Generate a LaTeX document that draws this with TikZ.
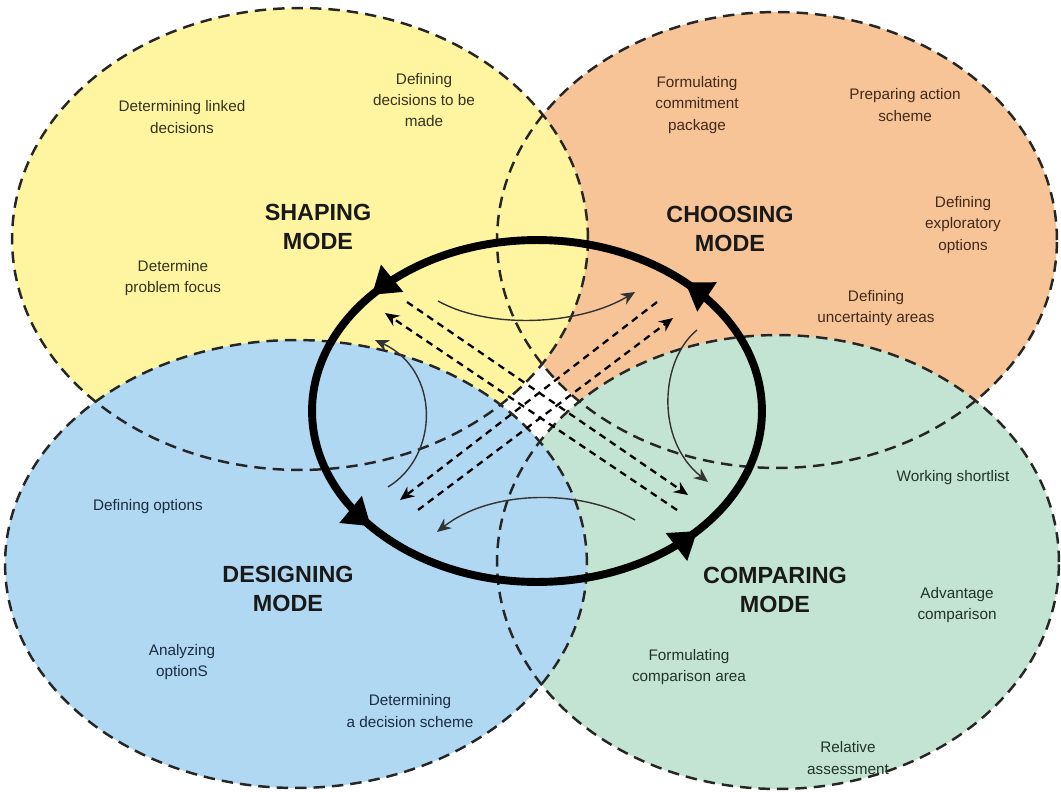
\documentclass[tikz,border=0pt]{standalone}
\usepackage{fontspec}
\setmainfont{Liberation Sans}
\usetikzlibrary{arrows.meta,decorations.markings}

\definecolor{shapingyellow}{HTML}{FFF5A0}
\definecolor{choosingorange}{HTML}{F6C497}
\definecolor{designingblue}{HTML}{B0D8F2}
\definecolor{comparinggreen}{HTML}{C4E4D3}
\definecolor{shapingtext}{HTML}{34321C}
\definecolor{choosingtext}{HTML}{42291A}
\definecolor{designingtext}{HTML}{1A2C40}
\definecolor{comparingtext}{HTML}{203428}

\tikzset{
  modeedge/.style={draw=black!85, line width=1.4pt, dash pattern=on 6.5pt off 4pt},
  item/.style={align=center, inner sep=0pt, font=\fontsize{8.7}{12}\selectfont},
  modename/.style={align=center, inner sep=0pt, text=black!90,
    font=\fontsize{13.3}{16}\selectfont\bfseries},
  modecycle/.style={line width=4.5pt, postaction={decorate},
    decoration={markings,
      mark=at position 0.125 with {\arrow{Triangle[length=15pt,width=19pt]}},
      mark=at position 0.392 with {\arrow{Triangle[length=15pt,width=19pt]}},
      mark=at position 0.607 with {\arrow{Triangle[length=15pt,width=19pt]}},
      mark=at position 0.887 with {\arrow{Triangle[length=15pt,width=19pt]}}}},
  feedback/.style={draw=black!80, line width=0.8pt, -{Stealth[length=8pt, width=7pt]}},
  crossing/.style={line width=1.3pt, dash pattern=on 4pt off 3pt,
    -{Stealth[length=8pt, width=7pt]}}
}

\begin{document}
\begin{tikzpicture}[x=0.02cm, y=-0.02cm]
\useasboundingbox (0,0) rectangle (1061,791);

% mode areas, lowest first
\fill[choosingorange] (777,240) ellipse [x radius=5.6cm,  y radius=4.56cm];
\fill[shapingyellow]  (300,239) ellipse [x radius=5.76cm, y radius=4.62cm];
\fill[comparinggreen] (778,562) ellipse [x radius=5.62cm, y radius=4.54cm];
\fill[designingblue]  (296,564) ellipse [x radius=5.82cm, y radius=4.48cm];

\draw[modeedge] (777,240) ellipse [x radius=5.6cm,  y radius=4.56cm];
\draw[modeedge] (300,239) ellipse [x radius=5.76cm, y radius=4.62cm];
\draw[modeedge] (778,562) ellipse [x radius=5.62cm, y radius=4.54cm];
\draw[modeedge] (296,564) ellipse [x radius=5.82cm, y radius=4.48cm];

% shaping
\node[modename] (shaping) at (318,227) {SHAPING\\MODE};
\node[item, text=shapingtext] (linked)  at (182,117) {Determining linked\\decisions};
\node[item, text=shapingtext] (tobe)    at (424,100) {Defining\\decisions to be\\made};
\node[item, text=shapingtext] (focus)   at (173,278) {Determine\\problem focus};

% choosing
\node[modename] (choosing) at (730,229) {CHOOSING\\MODE};
\node[item, text=choosingtext] (package)     at (697,105) {Formulating\\commitment\\package};
\node[item, text=choosingtext] (action)      at (905,105) {Preparing action\\scheme};
\node[item, text=choosingtext] (exploratory) at (963,225) {Defining\\exploratory\\options};
\node[item, text=choosingtext] (uncertainty) at (876,308) {Defining\\uncertainty areas};

% designing
\node[modename] (designing) at (288,589) {DESIGNING\\MODE};
\node[item, text=designingtext] (options)   at (148,507) {Defining options};
\node[item, text=designingtext] (analyzing) at (182,662) {Analyzing\\optionS};
\node[item, text=designingtext] (scheme)    at (410,711) {Determining\\a decision scheme};

% comparing
\node[modename] (comparing) at (775,590) {COMPARING\\MODE};
\node[item, text=comparingtext] (shortlist) at (953,478) {Working shortlist};
\node[item, text=comparingtext] (advantage) at (957,605) {Advantage\\comparison};
\node[item, text=comparingtext] (area)      at (689,667) {Formulating\\comparison area};
\node[item, text=comparingtext] (relative)  at (848,758) {Relative\\assessment};

% main cycle
\coordinate (hub) at (537,411);
\draw[modecycle] (hub) ellipse [x radius=4.5cm, y radius=3.42cm];

% feedback loops
\coordinate (s2c-a) at (438,301);
\coordinate (s2c-b) at (635,292);
\coordinate (c2p-a) at (697,330);
\coordinate (c2p-b) at (708,482);
\coordinate (p2d-a) at (635,520);
\coordinate (p2d-b) at (437,532);
\coordinate (d2s-a) at (388,487);
\coordinate (d2s-b) at (375,340);

\draw[feedback] (s2c-a) .. controls (490,330) and (580,325) .. (s2c-b);
\draw[feedback] (c2p-a) .. controls (660,360) and (655,440) .. (c2p-b);
\draw[feedback] (p2d-a) .. controls (580,488) and (490,490) .. (p2d-b);
\draw[feedback] (d2s-a) .. controls (440,455) and (440,370) .. (d2s-b);

% crossing links
\coordinate (s2p-a) at (407,302);
\coordinate (s2p-b) at (688,495);
\coordinate (p2s-a) at (677,510);
\coordinate (p2s-b) at (385,313);
\coordinate (c2d-a) at (657,302);
\coordinate (c2d-b) at (400,500);
\coordinate (d2c-a) at (418,510);
\coordinate (d2c-b) at (673,318);

\draw[crossing] (s2p-a) -- (s2p-b);
\draw[crossing] (p2s-a) -- (p2s-b);
\draw[crossing] (c2d-a) -- (c2d-b);
\draw[crossing] (d2c-a) -- (d2c-b);

\end{tikzpicture}
\end{document}
